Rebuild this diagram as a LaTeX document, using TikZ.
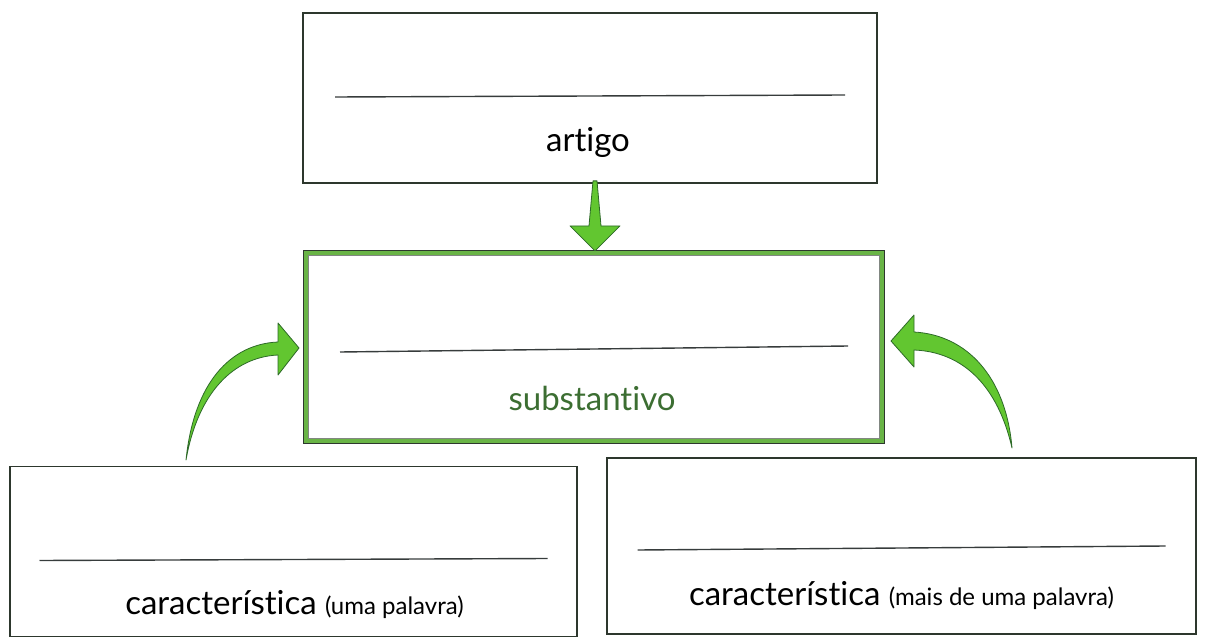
\documentclass[tikz,border=0pt]{standalone}
\usepackage{fontspec}
\setmainfont[Ligatures={NoCommon}, RawFeature={-liga;-dlig}]{Lato}
\usetikzlibrary{calc}
\definecolor{boxgray}{RGB}{45,55,45}
\definecolor{linegray}{RGB}{55,60,60}
\definecolor{arrowfill}{RGB}{98,198,48}
\definecolor{arrowedge}{RGB}{45,105,40}
\definecolor{midgreen}{RGB}{105,180,70}
\definecolor{subgreen}{RGB}{60,110,50}
\tikzset{
  plainbox/.style={draw=boxgray, line width=1.8pt, rectangle, inner sep=0pt},
  midbox/.style={draw=midgreen, line width=5pt, rectangle, inner sep=0pt, outer sep=0pt},
  writeline/.style={draw=linegray, line width=1.4pt},
  lbl/.style={font=\fontsize{33}{36}\selectfont, anchor=base, inner sep=0pt},
  greenarrow/.style={fill=arrowfill, draw=arrowedge, line width=0.8pt, line join=round},
}
\begin{document}
\begin{tikzpicture}[x=1pt,y=-1pt]
\useasboundingbox (0,0) rectangle (1207,639);
% boxes
\node[plainbox, minimum width=574pt, minimum height=170pt] (top) at (590,98) {};
\node[midbox, minimum width=576pt, minimum height=188pt] (mid) at (594,347) {};
\draw[boxgray, line width=0.8pt] ($(mid.north west)+(-2.5,-2.5)$) rectangle ($(mid.south east)+(2.5,2.5)$);
\draw[boxgray!60, line width=0.6pt] ($(mid.north west)+(2.5,2.5)$) rectangle ($(mid.south east)+(-2.5,-2.5)$);
\node[plainbox, minimum width=567pt, minimum height=170pt] (bl) at (293.5,551.5) {};
\node[plainbox, minimum width=589pt, minimum height=176pt] (br) at (901.5,546) {};
% writing lines
\draw[writeline] ($(top.center)+(-255,-1)$) -- ($(top.center)+(255,-3)$);
\draw[writeline] ($(mid.center)+(-254,5)$) -- ($(mid.center)+(254,-1)$);
\draw[writeline] ($(bl.center)+(-254,9)$) -- ($(bl.center)+(254,7)$);
\draw[writeline] ($(br.center)+(-264,4)$) -- ($(br.center)+(264,0)$);
% labels
\node[lbl] (ttop) at ($(top.center)+(-2,54)$) {artigo};
\node[lbl, text=subgreen] (tmid) at ($(mid.center)+(-2,63)$) {substantivo};
\node[lbl] (tbl) at ($(bl.center)+(1,63)$) {característica {\fontsize{24}{26}\selectfont(uma palavra)}};
\node[lbl] (tbr) at ($(br.center)+(0,59)$) {característica {\fontsize{24}{26}\selectfont(mais de uma palavra)}};
% arrows
\draw[greenarrow, shift={($(top.south)+(5,0)$)}]
  (-2,-3) -- (2,-3) -- (6,42) -- (25,42) -- (0,67) -- (-25,42) -- (-6,42) -- cycle;
\draw[greenarrow, shift={(mid.west)}]
  (-7,1) -- (-28,-24) -- (-28,-5) .. controls (-75,-3) and (-112,35) .. (-120,113)
  .. controls (-108,45) and (-72,10) .. (-28,8) -- (-28,28) -- cycle;
\draw[greenarrow, shift={(mid.east)}]
  (9,-6) -- (32,-32) -- (32,-15) .. controls (85,-12) and (124,30) .. (130,101)
  .. controls (116,40) and (82,5) .. (32,3) -- (32,20) -- cycle;
\end{tikzpicture}
\end{document}
